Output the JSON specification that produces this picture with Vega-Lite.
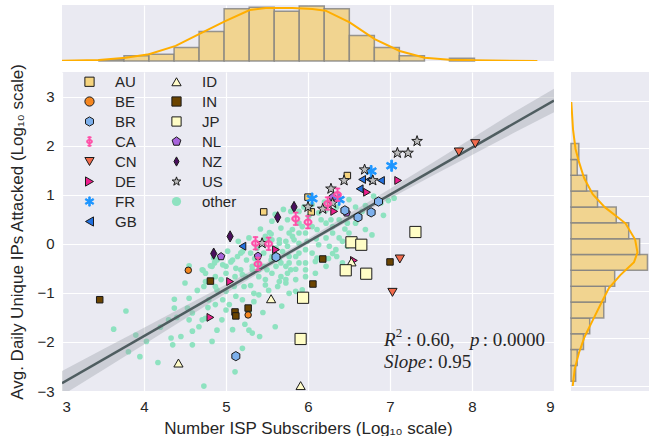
{
"$schema":"https://vega.github.io/schema/vega-lite/v6.json",
"padding":{"left":8,"top":5,"right":0,"bottom":0},
"columns":2,
"bounds":"flush",
"spacing":{"row":11,"column":17},
"resolve":{"scale":{"x":"independent","y":"independent","shape":"independent","fill":"independent","stroke":"independent"},"legend":{"shape":"independent","fill":"independent","stroke":"independent"}},
"datasets":{
"tophist":[{"x":3.451,"x2":3.756,"n":1},{"x":3.756,"x2":4.061,"n":4},{"x":4.061,"x2":4.367,"n":5},{"x":4.367,"x2":4.672,"n":10},{"x":4.672,"x2":4.977,"n":22},{"x":4.977,"x2":5.283,"n":39},{"x":5.283,"x2":5.588,"n":40},{"x":5.588,"x2":5.893,"n":37},{"x":5.893,"x2":6.198,"n":41},{"x":6.198,"x2":6.504,"n":39},{"x":6.504,"x2":6.809,"n":19},{"x":6.809,"x2":7.114,"n":10},{"x":7.114,"x2":7.42,"n":4},{"x":7.725,"x2":8.03,"n":2}],
"topkde":[{"x":2.984,"d":0.1},{"x":3.451,"d":0.75},{"x":3.776,"d":2.5},{"x":4.061,"d":5},{"x":4.386,"d":11.25},{"x":4.671,"d":20},{"x":4.984,"d":29.5},{"x":5.289,"d":38},{"x":5.484,"d":39.5},{"x":5.809,"d":39.5},{"x":6.053,"d":38.75},{"x":6.215,"d":37.5},{"x":6.508,"d":28.75},{"x":6.813,"d":16.25},{"x":7.118,"d":7.5},{"x":7.423,"d":2.5},{"x":7.728,"d":1},{"x":8.033,"d":0.5},{"x":8.797,"d":0}],
"righthist":[{"y":-2.9,"y2":-2.567,"n":3},{"y":-2.567,"y2":-2.233,"n":4},{"y":-2.233,"y2":-1.9,"n":8},{"y":-1.9,"y2":-1.567,"n":12},{"y":-1.567,"y2":-1.233,"n":21},{"y":-1.233,"y2":-0.9,"n":22},{"y":-0.9,"y2":-0.567,"n":28},{"y":-0.567,"y2":-0.233,"n":49},{"y":-0.233,"y2":0.1,"n":44},{"y":0.1,"y2":0.433,"n":37},{"y":0.433,"y2":0.767,"n":29},{"y":0.767,"y2":1.1,"n":17},{"y":1.1,"y2":1.433,"n":10},{"y":1.433,"y2":1.767,"n":4},{"y":1.767,"y2":2.1,"n":5}],
"rightkde":[{"y":2.973,"d":0.2},{"y":2.395,"d":1.3},{"y":1.986,"d":2.9},{"y":1.714,"d":5.1},{"y":1.374,"d":8.4},{"y":1.034,"d":13.9},{"y":0.762,"d":21.6},{"y":0.422,"d":34.9},{"y":0.082,"d":41.1},{"y":-0.19,"d":42.6},{"y":-0.395,"d":40.4},{"y":-0.667,"d":31.6},{"y":-0.939,"d":24.3},{"y":-1.279,"d":19},{"y":-1.619,"d":13.9},{"y":-1.959,"d":8.8},{"y":-2.299,"d":5.1},{"y":-2.639,"d":2.4},{"y":-3.0,"d":1.1}],
"band":[{"x":3,"lo":-3.09,"hi":-2.59},{"x":3.5,"lo":-2.57,"hi":-2.15},{"x":4,"lo":-2.05,"hi":-1.71},{"x":4.5,"lo":-1.53,"hi":-1.27},{"x":5,"lo":-1.01,"hi":-0.83},{"x":5.5,"lo":-0.5,"hi":-0.38},{"x":6,"lo":0.0,"hi":0.1},{"x":6.5,"lo":0.47,"hi":0.61},{"x":7,"lo":0.92,"hi":1.12},{"x":7.5,"lo":1.37,"hi":1.63},{"x":8,"lo":1.81,"hi":2.15},{"x":8.5,"lo":2.25,"hi":2.67},{"x":9,"lo":2.68,"hi":3.16}],
"line":[{"x":3,"y":-2.84},{"x":9,"y":2.92}],
"annItalic":[{"x":6.927,"y":-1.96,"t":"R"},{"x":7.976,"y":-1.96,"t":"p"},{"x":6.927,"y":-2.41,"t":"Slope"}],
"annSup":[{"x":7.07,"y":-1.81,"t":"2"}],
"annNormal":[{"x":7.2,"y":-1.96,"t":": 0.60,"},{"x":8.13,"y":-1.96,"t":": 0.0000"},{"x":7.463,"y":-2.41,"t":": 0.95"}],
"others":[
{"x":4.55,"y":-0.45,"c":"other"},{"x":4.72,"y":-0.54,"c":"other"},{"x":4.81,"y":-0.45,"c":"other"},{"x":4.86,"y":-0.39,"c":"other"},{"x":4.87,"y":-0.87,"c":"other"},{"x":4.75,"y":-0.77,"c":"other"},{"x":4.96,"y":-0.43,"c":"other"},{"x":5.06,"y":-0.37,"c":"other"},{"x":5.14,"y":-0.26,"c":"other"},{"x":5.2,"y":-0.16,"c":"other"},
{"x":5.25,"y":-0.33,"c":"other"},{"x":5.3,"y":-0.19,"c":"other"},{"x":5.38,"y":-0.09,"c":"other"},{"x":5.46,"y":-0.19,"c":"other"},{"x":5.55,"y":0.2,"c":"other"},{"x":5.65,"y":0.08,"c":"other"},{"x":5.81,"y":0.15,"c":"other"},{"x":5.89,"y":0.01,"c":"other"},{"x":5.97,"y":0.22,"c":"other"},{"x":5.75,"y":-0.05,"c":"other"},
{"x":5.67,"y":-0.39,"c":"other"},{"x":5.56,"y":-0.6,"c":"other"},{"x":5.75,"y":-0.6,"c":"other"},{"x":5.65,"y":-0.77,"c":"other"},{"x":5.85,"y":-0.52,"c":"other"},{"x":5.97,"y":-0.53,"c":"other"},{"x":5.85,"y":-0.97,"c":"other"},{"x":5.48,"y":-0.73,"c":"other"},{"x":5.4,"y":-0.67,"c":"other"},{"x":5.32,"y":-0.53,"c":"other"},
{"x":5.24,"y":-0.67,"c":"other"},{"x":5.18,"y":-0.53,"c":"other"},{"x":5.11,"y":-0.67,"c":"other"},{"x":5.22,"y":-0.87,"c":"other"},{"x":5.1,"y":-0.87,"c":"other"},{"x":5.0,"y":-0.97,"c":"other"},{"x":5.12,"y":-1.07,"c":"other"},{"x":5.2,"y":-1.14,"c":"other"},{"x":5.34,"y":-1.18,"c":"other"},{"x":5.34,"y":-1.01,"c":"other"},
{"x":5.04,"y":-1.24,"c":"other"},{"x":5.0,"y":-1.35,"c":"other"},{"x":4.87,"y":-1.24,"c":"other"},{"x":4.79,"y":-1.14,"c":"other"},{"x":4.55,"y":-1.11,"c":"other"},{"x":4.37,"y":-1.13,"c":"other"},{"x":4.53,"y":-1.31,"c":"other"},{"x":4.59,"y":-1.41,"c":"other"},{"x":4.71,"y":-1.55,"c":"other"},{"x":4.75,"y":-1.52,"c":"other"},
{"x":4.89,"y":-1.76,"c":"other"},{"x":4.67,"y":-1.69,"c":"other"},{"x":4.59,"y":-1.78,"c":"other"},{"x":4.45,"y":-1.89,"c":"other"},{"x":4.33,"y":-1.92,"c":"other"},{"x":4.35,"y":-2.06,"c":"other"},{"x":4.59,"y":-2.06,"c":"other"},{"x":4.83,"y":-1.99,"c":"other"},{"x":5.2,"y":-2.13,"c":"other"},{"x":5.11,"y":-2.61,"c":"other"},
{"x":4.73,"y":-2.9,"c":"other"},{"x":4.17,"y":-2.42,"c":"other"},{"x":3.95,"y":-2.3,"c":"other"},{"x":3.81,"y":-2.2,"c":"other"},{"x":4.03,"y":-1.99,"c":"other"},{"x":3.9,"y":-1.86,"c":"other"},{"x":3.63,"y":-1.74,"c":"other"},{"x":3.78,"y":-1.37,"c":"other"},{"x":4.3,"y":-1.55,"c":"other"},{"x":4.2,"y":-1.7,"c":"other"},
{"x":4.37,"y":-1.31,"c":"other"},{"x":4.55,"y":-1.55,"c":"other"},{"x":5.28,"y":-1.38,"c":"other"},{"x":5.23,"y":-1.64,"c":"other"},{"x":5.32,"y":-1.82,"c":"other"},{"x":5.41,"y":-1.89,"c":"other"},{"x":5.28,"y":-1.76,"c":"other"},{"x":5.6,"y":-1.69,"c":"other"},{"x":5.68,"y":-1.27,"c":"other"},{"x":5.4,"y":-1.04,"c":"other"},
{"x":5.93,"y":-0.94,"c":"other"},{"x":5.97,"y":-0.12,"c":"other"},{"x":5.48,"y":0.08,"c":"other"},{"x":4.89,"y":-0.33,"c":"other"},{"x":4.87,"y":-0.67,"c":"other"},{"x":5.0,"y":-0.6,"c":"other"},{"x":4.94,"y":-0.73,"c":"other"},{"x":5.12,"y":-0.5,"c":"other"},{"x":5.5,"y":-0.53,"c":"other"},{"x":5.61,"y":-0.46,"c":"other"},
{"x":5.77,"y":-0.39,"c":"other"},{"x":5.89,"y":-0.39,"c":"other"},{"x":5.4,"y":-0.39,"c":"other"},{"x":5.56,"y":0.46,"c":"other"},{"x":5.67,"y":0.32,"c":"other"},{"x":5.75,"y":0.49,"c":"other"},{"x":5.77,"y":0.22,"c":"other"},{"x":5.89,"y":0.22,"c":"other"},{"x":5.83,"y":0.08,"c":"other"},{"x":5.89,"y":0.42,"c":"other"},
{"x":6.05,"y":0.35,"c":"other"},{"x":6.11,"y":0.29,"c":"other"},{"x":6.16,"y":0.49,"c":"other"},{"x":6.22,"y":0.42,"c":"other"},{"x":6.28,"y":0.49,"c":"other"},{"x":6.38,"y":0.49,"c":"other"},{"x":6.48,"y":0.42,"c":"other"},{"x":6.58,"y":0.42,"c":"other"},{"x":6.66,"y":0.66,"c":"other"},{"x":6.8,"y":0.97,"c":"other"},
{"x":6.92,"y":0.58,"c":"other"},{"x":6.98,"y":0.88,"c":"other"},{"x":7.05,"y":0.93,"c":"other"},{"x":6.3,"y":0.22,"c":"other"},{"x":6.22,"y":0.12,"c":"other"},{"x":6.13,"y":-0.02,"c":"other"},{"x":6.26,"y":-0.05,"c":"other"},{"x":6.34,"y":-0.12,"c":"other"},{"x":5.99,"y":0.05,"c":"other"},{"x":6.05,"y":-0.19,"c":"other"},
{"x":6.11,"y":-0.29,"c":"other"},{"x":5.89,"y":-0.19,"c":"other"},{"x":5.77,"y":-0.26,"c":"other"},{"x":5.69,"y":-0.16,"c":"other"},{"x":5.65,"y":0.01,"c":"other"},{"x":5.73,"y":-0.46,"c":"other"},{"x":5.97,"y":-0.39,"c":"other"},{"x":6.48,"y":-0.05,"c":"other"},{"x":6.42,"y":0.05,"c":"other"},{"x":6.55,"y":0.08,"c":"other"},
{"x":6.6,"y":-0.05,"c":"other"},{"x":6.35,"y":-0.26,"c":"other"},{"x":6.42,"y":-0.39,"c":"other"},{"x":6.22,"y":-0.46,"c":"other"},{"x":6.09,"y":-0.6,"c":"other"},{"x":5.97,"y":-0.67,"c":"other"},{"x":5.85,"y":-0.73,"c":"other"},{"x":5.73,"y":-0.8,"c":"other"},{"x":5.67,"y":-0.67,"c":"other"},{"x":5.63,"y":-0.87,"c":"other"},
{"x":5.77,"y":-1.01,"c":"other"},{"x":5.48,"y":-0.84,"c":"other"},{"x":5.2,"y":-0.63,"c":"other"},{"x":5.08,"y":-0.33,"c":"other"},{"x":5.18,"y":-0.19,"c":"other"},{"x":5.0,"y":-0.46,"c":"other"},{"x":4.83,"y":-0.46,"c":"other"},{"x":4.75,"y":-0.6,"c":"other"},{"x":4.71,"y":-0.53,"c":"other"},{"x":4.73,"y":-0.87,"c":"other"},
{"x":4.89,"y":-0.94,"c":"other"},{"x":4.96,"y":-1.14,"c":"other"},{"x":5.79,"y":0.66,"c":"other"},{"x":5.89,"y":0.66,"c":"other"},{"x":6.01,"y":0.56,"c":"other"},{"x":6.13,"y":0.63,"c":"other"},{"x":6.5,"y":0.9,"c":"other"},{"x":6.58,"y":0.75,"c":"other"},{"x":6.89,"y":0.83,"c":"other"},{"x":6.7,"y":0.29,"c":"other"},
{"x":6.78,"y":0.18,"c":"other"},{"x":6.38,"y":0.12,"c":"other"},{"x":6.5,"y":0.22,"c":"other"},{"x":6.22,"y":0.69,"c":"other"},{"x":5.48,"y":0.15,"c":"other"},{"x":5.61,"y":-0.09,"c":"other"},{"x":5.55,"y":-0.33,"c":"other"},{"x":5.46,"y":-0.46,"c":"other"},{"x":6.46,"y":-0.5,"c":"other"},{"x":6.3,"y":-0.2,"c":"other"},
{"x":6.09,"y":-0.36,"c":"other"},{"x":5.73,"y":-0.73,"c":"other"},{"x":4.85,"y":-0.29,"c":"other"},{"x":5.32,"y":-0.46,"c":"other"},{"x":5.56,"y":-0.26,"c":"other"},{"x":5.73,"y":0.05,"c":"other"},{"x":5.81,"y":0.29,"c":"other"},{"x":5.93,"y":0.35,"c":"other"},{"x":5.56,"y":0.08,"c":"other"},{"x":5.53,"y":0.23,"c":"other"},
{"x":5.4,"y":-0.53,"c":"other"},{"x":5.65,"y":-0.33,"c":"other"},{"x":5.79,"y":-0.53,"c":"other"},{"x":5.85,"y":-0.26,"c":"other"},{"x":5.02,"y":-0.15,"c":"other"},{"x":5.15,"y":0.05,"c":"other"},{"x":5.28,"y":0.12,"c":"other"},{"x":5.42,"y":0.3,"c":"other"},{"x":5.6,"y":0.6,"c":"other"},{"x":5.7,"y":0.7,"c":"other"},
{"x":5.95,"y":0.75,"c":"other"},{"x":6.05,"y":0.8,"c":"other"},{"x":6.2,"y":0.85,"c":"other"},{"x":6.35,"y":0.75,"c":"other"},{"x":5.35,"y":-0.3,"c":"other"},{"x":5.52,"y":-0.95,"c":"other"},{"x":6.25,"y":-0.3,"c":"other"},{"x":6.45,"y":0.3,"c":"other"},{"x":6.6,"y":0.55,"c":"other"},{"x":6.7,"y":0.78,"c":"other"},
{"x":4.65,"y":-0.95,"c":"other"},{"x":4.78,"y":-1.3,"c":"other"},{"x":4.95,"y":-1.55,"c":"other"},{"x":5.08,"y":-1.75,"c":"other"},{"x":5.45,"y":-1.4,"c":"other"},{"x":4.5,"y":-0.8,"c":"other"},{"x":4.4,"y":-1.5,"c":"other"},{"x":6.1,"y":0.1,"c":"other"},{"x":6.3,"y":0.35,"c":"other"},{"x":5.3,"y":-0.85,"c":"other"}
],
"countries":[
{"x":5.46,"y":0.65,"c":"AU"},{"x":6.48,"y":1.39,"c":"AU"},{"x":6.0,"y":0.95,"c":"AU"},{"x":6.04,"y":0.65,"c":"AU"},
{"x":4.54,"y":-0.54,"c":"BE"},{"x":5.27,"y":-1.45,"c":"BE"},
{"x":6.86,"y":0.86,"c":"BR"},{"x":6.77,"y":0.64,"c":"BR"},{"x":6.61,"y":0.54,"c":"BR"},{"x":6.45,"y":0.68,"c":"BR"},{"x":5.61,"y":-0.27,"c":"BR"},{"x":5.12,"y":-2.29,"c":"BR"},
{"x":5.85,"y":0.51,"c":"CA"},{"x":6.0,"y":0.44,"c":"CA"},{"x":6.24,"y":0.82,"c":"CA"},{"x":6.36,"y":1.0,"c":"CA"},{"x":5.36,"y":0.01,"c":"CA"},{"x":5.52,"y":0.0,"c":"CA"},{"x":5.39,"y":-0.41,"c":"CA"},
{"x":8.04,"y":2.04,"c":"CN"},{"x":7.84,"y":1.87,"c":"CN"},{"x":7.12,"y":-0.31,"c":"CN"},{"x":7.03,"y":-0.99,"c":"CN"},
{"x":7.1,"y":1.29,"c":"DE"},{"x":6.72,"y":1.05,"c":"DE"},{"x":6.32,"y":0.66,"c":"DE"},{"x":5.05,"y":-0.77,"c":"DE"},{"x":6.56,"y":-0.34,"c":"DE"},{"x":5.61,"y":-0.12,"c":"DE"},{"x":4.81,"y":-1.5,"c":"DE"},
{"x":7.02,"y":1.59,"c":"FR"},{"x":6.77,"y":1.48,"c":"FR"},{"x":6.05,"y":0.92,"c":"FR"},{"x":6.38,"y":0.9,"c":"FR"},
{"x":6.66,"y":1.31,"c":"GB"},{"x":6.75,"y":1.31,"c":"GB"},{"x":6.89,"y":1.29,"c":"GB"},{"x":6.63,"y":1.12,"c":"GB"},{"x":5.2,"y":-0.05,"c":"GB"},
{"x":5.55,"y":-1.12,"c":"ID"},{"x":4.42,"y":-2.43,"c":"ID"},{"x":5.91,"y":-2.89,"c":"ID"},{"x":6.53,"y":-0.37,"c":"ID"},
{"x":3.46,"y":-1.14,"c":"IN"},{"x":4.81,"y":-0.76,"c":"IN"},{"x":5.11,"y":-1.39,"c":"IN"},{"x":5.12,"y":-1.47,"c":"IN"},{"x":5.27,"y":-1.31,"c":"IN"},{"x":6.18,"y":-0.31,"c":"IN"},{"x":6.06,"y":-0.82,"c":"IN"},{"x":7.0,"y":-0.37,"c":"IN"},
{"x":7.31,"y":0.24,"c":"JP"},{"x":6.53,"y":0.03,"c":"JP"},{"x":6.65,"y":-0.02,"c":"JP"},{"x":6.46,"y":-0.54,"c":"JP"},{"x":6.71,"y":-0.61,"c":"JP"},{"x":5.94,"y":-1.1,"c":"JP"},{"x":5.91,"y":-1.94,"c":"JP"},
{"x":4.94,"y":-0.26,"c":"NL"},{"x":6.47,"y":0.63,"c":"NL"},{"x":6.3,"y":0.95,"c":"NL"},{"x":5.39,"y":-0.25,"c":"NL"},
{"x":5.83,"y":0.75,"c":"NZ"},{"x":5.63,"y":0.54,"c":"NZ"},{"x":5.05,"y":0.15,"c":"NZ"},{"x":4.85,"y":-0.2,"c":"NZ"},
{"x":7.33,"y":2.09,"c":"US"},{"x":7.09,"y":1.85,"c":"US"},{"x":7.22,"y":1.85,"c":"US"},{"x":6.69,"y":1.51,"c":"US"},{"x":6.79,"y":1.29,"c":"US"},{"x":6.44,"y":1.29,"c":"US"},{"x":6.28,"y":1.12,"c":"US"},{"x":6.0,"y":0.75,"c":"US"},{"x":6.18,"y":0.71,"c":"US"},{"x":6.3,"y":0.83,"c":"US"},{"x":5.44,"y":0.01,"c":"US"}
]
},
"concat":[
{"width":492,"height":56,
 "encoding":{"x":{"field":"x","type":"quantitative","scale":{"domain":[3,9],"nice":false,"zero":false},"axis":{"labels":false,"title":null,"values":[4,5,6,7,8],"grid":true,"labelPadding":0}}},
 "layer":[
  {"data":{"name":"tophist"},"mark":{"type":"bar","fill":"#F1D490","stroke":"#808080","strokeOpacity":0.8,"strokeWidth":1.5},
   "encoding":{"x2":{"field":"x2"},"y":{"field":"n","type":"quantitative","scale":{"domain":[0,41.75],"nice":false},"axis":null},"y2":{"datum":0}}},
  {"data":{"name":"topkde"},"mark":{"type":"line","color":"#FFAE00","strokeWidth":2,"clip":true},
   "encoding":{"y":{"field":"d","type":"quantitative","scale":{"domain":[0,41.75],"nice":false},"axis":null}}}
 ]},
{"width":78,"height":56,"data":{"values":[]},"mark":"point","view":{"fill":"transparent","stroke":null}},
{"width":492,"height":319,
 "encoding":{
  "x":{"field":"x","type":"quantitative","scale":{"domain":[3,9],"nice":false,"zero":false},"axis":{"title":"Number ISP Subscribers (Log₁₀ scale)","values":[3,4,5,6,7,8,9],"labelPadding":8,"titlePadding":6}},
  "y":{"field":"y","type":"quantitative","scale":{"domain":[-3,3.5],"nice":false,"zero":false},"axis":{"title":"Avg. Daily Unique IPs Attacked (Log₁₀ scale)","values":[-3,-2,-1,0,1,2,3],"labelPadding":8,"titlePadding":10}},
  "shape":{"field":"c","type":"nominal","title":null,"scale":{"domain":["AU","BE","BR","CA","CN","DE","FR","GB","ID","IN","JP","NL","NZ","US","other"],"range":["square","circle","M0,-1L0.866,-0.5L0.866,0.5L0,1L-0.866,0.5L-0.866,-0.5Z","M-0.62,0A0.62,0.5 0 1,1 0.62,0A0.62,0.5 0 1,1 -0.62,0ZM-0.36,0A0.36,0.27 0 1,0 0.36,0A0.36,0.27 0 1,0 -0.36,0ZM-0.1,-1L0.1,-1L0.1,1L-0.1,1ZM-0.36,-1L0.36,-1L0.36,-0.84L-0.36,-0.84ZM-0.36,0.84L0.36,0.84L0.36,1L-0.36,1Z","triangle-down","triangle-right","M-0.16,-1L0.16,-1L0.16,1L-0.16,1ZM-0.946,-0.361L-0.786,-0.639L0.946,0.361L0.786,0.639ZM-0.946,0.361L0.786,-0.639L0.946,-0.361L-0.786,0.639Z","triangle-left","triangle-up","square","square","M0,-1L0.951,-0.309L0.588,0.809L-0.588,0.809L-0.951,-0.309Z","M0,-1L0.55,0L0,1L-0.55,0Z","M0,-1L0.235,-0.324L0.951,-0.309L0.38,0.124L0.588,0.809L0,0.4L-0.588,0.809L-0.38,0.124L-0.951,-0.309L-0.235,-0.324Z","circle"]},
   "legend":{"orient":"none","legendX":20,"legendY":2,"columns":2,"columnPadding":32,"rowPadding":4,"labelFontSize":15,"labelFont":"Liberation Sans","labelColor":"#262626","labelOffset":18,"padding":0,"symbolSize":85,"symbolStrokeWidth":1}},
  "fill":{"field":"c","type":"nominal","title":null,"scale":{"domain":["AU","BE","BR","CA","CN","DE","FR","GB","ID","IN","JP","NL","NZ","US","other"],"range":["#F6D47E","#F5861F","#7DB0EC","#FF4FA8","#F26B4C","#EC1E8C","#1E96FF","#2170E0","#FFFBC8","#6B4400","#FFFDC6","#A864DC","#4A0F5E","#BDBDBD","#8EE2C0"]},
   "legend":{"orient":"none","legendX":20,"legendY":2,"columns":2,"columnPadding":32,"rowPadding":4,"labelFontSize":15,"labelFont":"Liberation Sans","labelColor":"#262626","labelOffset":18,"padding":0,"symbolSize":85,"symbolStrokeWidth":1}},
  "stroke":{"field":"c","type":"nominal","title":null,"scale":{"domain":["AU","BE","BR","CA","CN","DE","FR","GB","ID","IN","JP","NL","NZ","US","other"],"range":["#1a1a1a","#1a1a1a","#1a1a1a","#FF4FA8","#1a1a1a","#1a1a1a","#1E96FF","#1a1a1a","#1a1a1a","#1a1a1a","#1a1a1a","#1a1a1a","#1a1a1a","#1a1a1a","transparent"]},
   "legend":{"orient":"none","legendX":20,"legendY":2,"columns":2,"columnPadding":32,"rowPadding":4,"labelFontSize":15,"labelFont":"Liberation Sans","labelColor":"#262626","labelOffset":18,"padding":0,"symbolSize":85,"symbolStrokeWidth":1}}
 },
 "layer":[
  {"data":{"name":"others"},"mark":{"type":"point","opacity":1,"filled":true,"size":32,"strokeWidth":0}},
  {"data":{"name":"band"},"mark":{"type":"area","color":"#9AA0A8","opacity":0.38,"clip":true},
   "encoding":{"y":{"field":"lo","type":"quantitative","title":"Avg. Daily Unique IPs Attacked (Log₁₀ scale)"},"y2":{"field":"hi"},"shape":null,"fill":null,"stroke":null}},
  {"data":{"name":"line"},"mark":{"type":"line","color":"#4F5D60","strokeWidth":2.5,"clip":true},
   "encoding":{"shape":null,"fill":null,"stroke":null}},
  {"data":{"name":"countries"},"transform":[{"filter":{"field":"c","oneOf":["AU","BE","IN"]}}],"mark":{"type":"point","opacity":1,"filled":true,"size":42,"strokeWidth":1}},
  {"data":{"name":"countries"},"transform":[{"filter":{"field":"c","oneOf":["DE","GB","NL"]}}],"mark":{"type":"point","opacity":1,"filled":true,"size":62,"strokeWidth":1}},
  {"data":{"name":"countries"},"transform":[{"filter":{"field":"c","oneOf":["BR","CN","ID"]}}],"mark":{"type":"point","opacity":1,"filled":true,"size":85,"strokeWidth":1}},
  {"data":{"name":"countries"},"transform":[{"filter":{"field":"c","oneOf":["JP","NZ","US","FR"]}}],"mark":{"type":"point","opacity":1,"filled":true,"size":125,"strokeWidth":1}},
  {"data":{"name":"countries"},"transform":[{"filter":{"field":"c","oneOf":["CA"]}}],"mark":{"type":"point","opacity":1,"filled":true,"size":180,"strokeWidth":0.6}},
  {"data":{"name":"annItalic"},"mark":{"type":"text","align":"left","baseline":"middle","font":"Liberation Serif","fontStyle":"italic","fontSize":19,"color":"#262626"},
   "encoding":{"text":{"field":"t"},"shape":null,"fill":null,"stroke":null}},
  {"data":{"name":"annSup"},"mark":{"type":"text","align":"left","baseline":"middle","font":"Liberation Serif","fontSize":13,"color":"#262626"},
   "encoding":{"text":{"field":"t"},"shape":null,"fill":null,"stroke":null}},
  {"data":{"name":"annNormal"},"mark":{"type":"text","align":"left","baseline":"middle","font":"Liberation Serif","fontSize":19,"color":"#262626"},
   "encoding":{"text":{"field":"t"},"shape":null,"fill":null,"stroke":null}}
 ]},
{"width":78,"height":319,
 "encoding":{"y":{"field":"y","type":"quantitative","scale":{"domain":[-3,3.5],"nice":false,"zero":false},"axis":{"labels":false,"title":null,"values":[-3,-2,-1,0,1,2,3],"grid":true,"labelPadding":0}}},
 "layer":[
  {"data":{"name":"righthist"},"mark":{"type":"bar","fill":"#F1D490","stroke":"#808080","strokeOpacity":0.8,"strokeWidth":1.5,"orient":"horizontal"},
   "encoding":{"y2":{"field":"y2"},"x":{"field":"n","type":"quantitative","scale":{"domain":[0,50],"nice":false},"axis":null},"x2":{"datum":0}}},
  {"data":{"name":"rightkde"},"mark":{"type":"line","color":"#FFAE00","strokeWidth":2,"clip":true},
   "encoding":{"x":{"field":"d","type":"quantitative","scale":{"domain":[0,50],"nice":false},"axis":null},"order":{"field":"y","type":"quantitative"}}}
 ]}
],
"config":{
 "view":{"fill":"#EAEAF2","stroke":null},
 "axis":{"gridColor":"#FFFFFF","gridWidth":1.2,"domain":false,"ticks":false,"labelFont":"Liberation Sans","titleFont":"Liberation Sans","labelColor":"#262626","titleColor":"#262626","labelFontSize":15,"titleFontSize":17,"titleFontWeight":"normal"}
}
}
